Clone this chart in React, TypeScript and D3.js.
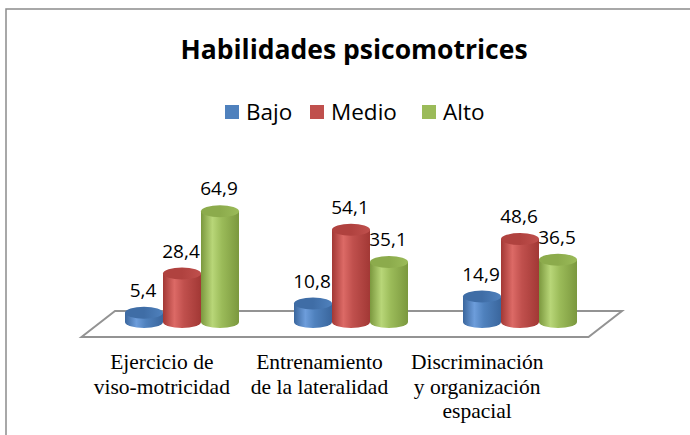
import * as d3 from "d3";

// chart data
const title = "Habilidades psicomotrices";
const categories = ["Ejercicio de viso-motricidad", "Entrenamiento de la lateralidad", "Discriminación y organización espacial"];
const categoryLines = [
  ["Ejercicio de", "viso-motricidad"],
  ["Entrenamiento", "de la lateralidad"],
  ["Discriminación", "y organización", "espacial"],
];
const seriesNames = ["Bajo", "Medio", "Alto"];
const bajo = [5.4, 10.8, 14.9];
const medio = [28.4, 54.1, 48.6];
const alto = [64.9, 35.1, 36.5];
const seriesValues = [bajo, medio, alto];

// colours per series
const palette = [
  { edge: "#3a669d", light: "#6d9ddb", mid: "#4f81bd", top: "#3f6da6", legend: "#4f81bd" },
  { edge: "#a23835", light: "#dc6a66", mid: "#c0504d", top: "#b0423f", legend: "#c0504d" },
  { edge: "#7b983e", light: "#b8d678", mid: "#9bbb59", top: "#8cab4c", legend: "#9bbb59" },
];

const W = 690;
const H = 435;
const sans = "'Open Sans', 'Noto Sans', sans-serif";

const fmt = d3.formatLocale({ decimal: ",", thousands: ".", grouping: [3], currency: ["", "€"] }).format(".1f");

export default function App() {
  // scales
  const x0 = d3.scaleBand().domain(categories).range([97.5, 604.5]).padding(0);
  const groupW = 114;
  const x1 = d3.scaleBand().domain(seriesNames).range([0, groupW]).padding(0);
  const y = d3.scaleLinear().domain([0, 70]).range([322, 202.5]);
  const xLabel = d3.scaleBand().domain(categories).range([83, 556]);

  const rx = x1.bandwidth() / 2;
  const ry = 6;

  // floor corners from the band range
  const [fx0, fx1] = x0.range();
  const depthX = 16, depthY = 13;
  const floorY = y(0) + 2;
  const floor = [
    [fx0 - depthX, floorY + depthY],
    [fx0 + depthX + 1.5, floorY - depthY],
    [fx1 + depthX + 1.5, floorY - depthY],
    [fx1 - depthX, floorY + depthY],
  ];

  const legendX = d3.scaleOrdinal<string, number>().domain(seriesNames).range([225, 310, 422]);

  const cylinders: any[] = [];
  categories.forEach((c, ci) => {
    seriesNames.forEach((s, si) => {
      const v = seriesValues[si][ci];
      const cx = (x0(c) as number) + (x0.bandwidth() - groupW) / 2 + (x1(s) as number) + rx;
      cylinders.push({ c, s, si, v, cx, top: y(v), base: y(0) });
    });
  });

  const bodyPath = (d: any) =>
    `M${d.cx - rx},${d.top} L${d.cx - rx},${d.base} A${rx},${ry} 0 0 0 ${d.cx + rx},${d.base} L${d.cx + rx},${d.top} Z`;

  return (
    <svg width={W} height={H} style={{ position: "absolute", left: 0, top: 0, background: "#fff" }}>
      <defs>
        {palette.map((p, i) => (
          <linearGradient key={i} id={"body" + i} x1="0" x2="1" y1="0" y2="0">
            <stop offset="0" stopColor={p.edge} />
            <stop offset="0.3" stopColor={p.light} />
            <stop offset="0.55" stopColor={p.mid} />
            <stop offset="1" stopColor={p.edge} />
          </linearGradient>
        ))}
        {palette.map((p, i) => (
          <linearGradient key={i} id={"top" + i} x1="0" x2="1" y1="0" y2="0">
            <stop offset="0" stopColor={p.top} />
            <stop offset="0.5" stopColor={p.top} />
            <stop offset="1" stopColor={p.mid} />
          </linearGradient>
        ))}
      </defs>

      {/* outer frame */}
      <rect x={6} y={9} width={W + 10} height={H + 10} fill="#fff" stroke="#8c8c8c" strokeWidth={1.5} />

      {/* title */}
      <text x={354} y={59} textAnchor="middle" fontFamily={sans} fontWeight="bold" fontSize={26.5} fill="#000">
        {title}
      </text>

      {/* legend */}
      {seriesNames.map((s, i) => (
        <g key={s} transform={`translate(${legendX(s)},0)`}>
          <rect x={0} y={105} width={14} height={14} fill={palette[i].legend} />
          <text x={21} y={120} fontFamily={sans} fontSize={22.5} fill="#000">
            {s}
          </text>
        </g>
      ))}

      {/* floor */}
      <polygon points={floor.map((p) => p.join(",")).join(" ")} fill="#fff" stroke="#939393" strokeWidth={2} />

      {/* cylinders */}
      {cylinders.map((d, i) => (
        <g key={i}>
          <path d={bodyPath(d)} fill={`url(#body${d.si})`} />
          <ellipse cx={d.cx} cy={d.top} rx={rx} ry={ry} fill={`url(#top${d.si})`} />
        </g>
      ))}

      {/* value labels */}
      {cylinders.map((d, i) => (
        <text key={i} x={d.cx - 1} y={d.top - ry - 10} textAnchor="middle" fontFamily={sans} fontSize={19} fill="#000">
          {fmt(d.v)}
        </text>
      ))}

      {/* category labels */}
      {categories.map((c, ci) => (
        <text key={c} textAnchor="middle" fontFamily="'Liberation Serif', 'Times New Roman', serif" fontSize={21.5} fill="#000">
          {categoryLines[ci].map((line, li) => (
            <tspan key={li} x={(xLabel(c) as number) + xLabel.bandwidth() / 2} y={369 + li * 24.5}>
              {line}
            </tspan>
          ))}
        </text>
      ))}
    </svg>
  );
}
